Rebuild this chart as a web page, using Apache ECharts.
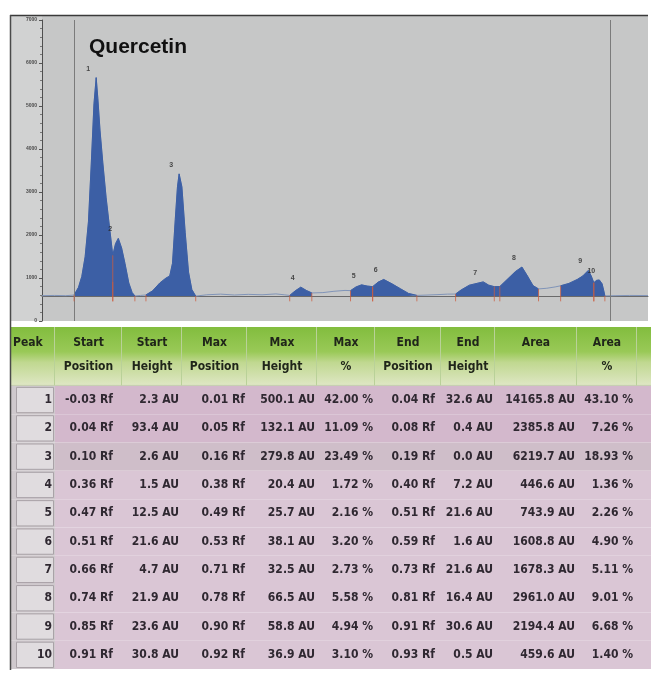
<!DOCTYPE html>
<html>
<head>
<meta charset="utf-8">
<script src="https://cdn.jsdelivr.net/npm/echarts@6/dist/echarts.min.js"></script>
<style>
  html, body { margin: 0; padding: 0; background: #ffffff; }
  #chart { width: 651px; height: 678px; }
</style>
</head>
<body>
<div id="chart"></div>
<script>
// ---- Peak table of the densitometric scan ----
const peakNumbers   = [1, 2, 3, 4, 5, 6, 7, 8, 9, 10];
const startPosition = [-0.03, 0.04, 0.10, 0.36, 0.47, 0.51, 0.66, 0.74, 0.85, 0.91];
const startHeight   = [2.3, 93.4, 2.6, 1.5, 12.5, 21.6, 4.7, 21.9, 23.6, 30.8];
const maxPosition   = [0.01, 0.05, 0.16, 0.38, 0.49, 0.53, 0.71, 0.78, 0.90, 0.92];
const maxHeight     = [500.1, 132.1, 279.8, 20.4, 25.7, 38.1, 32.5, 66.5, 58.8, 36.9];
const maxPercent    = [42.00, 11.09, 23.49, 1.72, 2.16, 3.20, 2.73, 5.58, 4.94, 3.10];
const endPosition   = [0.04, 0.08, 0.19, 0.40, 0.51, 0.59, 0.73, 0.81, 0.91, 0.93];
const endHeight     = [32.6, 0.4, 0.0, 7.2, 21.6, 1.6, 21.6, 16.4, 30.6, 0.5];
const area          = [14165.8, 2385.8, 6219.7, 446.6, 743.9, 1608.8, 1678.3, 2961.0, 2194.4, 459.6];
const areaPercent   = [43.10, 7.26, 18.93, 1.36, 2.26, 4.90, 5.11, 9.01, 6.68, 1.40];

// ---- Scanned track profile (Rf, AU) ----
const traceRf = [-0.088, -0.065, -0.045, -0.03, -0.022, -0.016, -0.01, -0.004, 0.001, 0.006, 0.01,
  0.013, 0.017, 0.022, 0.028, 0.035, 0.04, 0.045, 0.05, 0.056, 0.062, 0.069, 0.075, 0.08,
  0.09, 0.10, 0.112, 0.125, 0.136, 0.143, 0.148, 0.153, 0.157, 0.16, 0.165, 0.171, 0.177,
  0.183, 0.19, 0.21, 0.235, 0.26, 0.285, 0.31, 0.335, 0.35, 0.36, 0.37, 0.38, 0.39, 0.40,
  0.42, 0.44, 0.46, 0.47, 0.48, 0.49, 0.50, 0.51, 0.52, 0.53, 0.545, 0.56, 0.575, 0.59,
  0.61, 0.63, 0.645, 0.66, 0.67, 0.685, 0.71, 0.72, 0.73, 0.74, 0.755, 0.768, 0.78, 0.79,
  0.80, 0.81, 0.825, 0.84, 0.85, 0.865, 0.88, 0.89, 0.90, 0.905, 0.91, 0.915, 0.92, 0.925,
  0.928, 0.93, 0.95, 0.975, 1.008];
const traceAU = [1.0, 1.5, 1.0, 2.3, 20, 45, 90, 170, 300, 440, 500.1,
  452, 378, 305, 225, 148, 93.4, 120, 132.1, 110, 75, 30, 8, 0.4,
  1.5, 2.6, 12, 30, 41, 46, 75, 175, 250, 279.8, 250, 145, 55,
  15, 0.0, 3, 4.5, 2.5, 4, 3, 5, 3, 1.5, 12, 20.4, 13, 7.2,
  8, 11, 13, 12.5, 21, 25.7, 23, 21.6, 32, 38.1, 28, 17, 6, 1.6,
  2.5, 3.5, 4.5, 4.7, 14, 25, 32.5, 25, 21.6, 21.9, 40, 56, 66.5, 46,
  24, 16.4, 18, 21, 23.6, 29, 38, 46, 58.8, 47, 30.6, 36, 36.9, 28,
  12, 0.5, 1, 1.5, 1.2];

// Application line and solvent front (Rf)
const referenceLineRf = [-0.033, 0.935];

// Left axis (raw detector scale)
const yTickLabels = ['0', '1000', '2000', '3000', '4000', '5000', '6000', '7000'];

// Table header text
const headerTop    = ['Peak', 'Start', 'Start', 'Max', 'Max', 'Max', 'End', 'End', 'Area', 'Area', ''];
const headerBottom = ['', 'Position', 'Height', 'Position', 'Height', '%', 'Position', 'Height', '', '%', ''];

// ---- Layout / style constants ----
const colEdges = [0, 45, 112, 172, 237, 307, 365, 431, 485, 567, 627, 700]; // px from table left
const colPad   = [3, 9, 3, 2, 2, 2, 6, 2, 2, 4, 2];
const rowFill  = ['#d3b8cc', '#d3b8cc', '#cfbec9', '#dac6d5', '#dac6d5', '#dac6d5', '#dac6d5', '#dac6d5', '#dac6d5', '#dac6d5'];
const tableFont = '"DejaVu Sans Condensed", "DejaVu Sans", sans-serif';
const HEADER_MIN = -2.08;

const columns = [
  null,
  { v: startPosition, d: 2, u: 'Rf' },
  { v: startHeight,   d: 1, u: 'AU' },
  { v: maxPosition,   d: 2, u: 'Rf' },
  { v: maxHeight,     d: 1, u: 'AU' },
  { v: maxPercent,    d: 2, u: '%' },
  { v: endPosition,   d: 2, u: 'Rf' },
  { v: endHeight,     d: 1, u: 'AU' },
  { v: area,          d: 1, u: 'AU' },
  { v: areaPercent,   d: 2, u: '%' },
  null
];

function cellText(c, r) {
  if (c === 0) return String(peakNumbers[r]);
  const col = columns[c];
  if (!col) return '';
  return col.v[r].toFixed(col.d) + ' ' + col.u;
}

// Profile points and filled peak regions
const tracePoints = traceRf.map((x, i) => [x, traceAU[i]]);
function insidePeak(x) {
  for (let i = 0; i < startPosition.length; i++) {
    if (x >= startPosition[i] - 1e-9 && x <= endPosition[i] + 1e-9) return true;
  }
  return false;
}
const fillData = [];
tracePoints.forEach(p => {
  if (insidePeak(p[0])) fillData.push(p);
  else if (fillData.length && fillData[fillData.length - 1] !== '-') fillData.push('-');
});

// Boundary markers: each peak start and end
const boundaryData = [];
for (let i = 0; i < startPosition.length; i++) {
  boundaryData.push([startPosition[i], startHeight[i]]);
  boundaryData.push([endPosition[i], endHeight[i]]);
}

// Table cell data
const bodyData = [];
for (let r = 0; r < peakNumbers.length; r++) {
  for (let c = 0; c < colEdges.length - 1; c++) bodyData.push([c, r]);
}
const headerData = [];
for (let c = 0; c < colEdges.length - 1; c++) headerData.push([c, -1]);

const chart = echarts.init(document.getElementById('chart'), null, { renderer: 'canvas' });

const option = {
  backgroundColor: '#ffffff',
  animation: false,
  title: {
    text: 'Quercetin',
    left: 84, top: 32,
    textStyle: { fontFamily: '"Liberation Sans", Arial, sans-serif', fontSize: 21, fontWeight: 'bold', color: '#111111' }
  },
  graphic: [
    { type: 'rect', z: 0, silent: true, shape: { x: 10, y: 15, width: 638, height: 306 }, style: { fill: '#c6c7c7' } },
    { type: 'rect', z: 0, silent: true, shape: { x: 10, y: 15, width: 32, height: 306 }, style: { fill: '#d1d2d2' } },
    { type: 'line', z: 20, silent: true, shape: { x1: 10, y1: 15.5, x2: 648, y2: 15.5 }, style: { stroke: '#3a3a3a', lineWidth: 1.5 } },
    { type: 'line', z: 20, silent: true, shape: { x1: 10.5, y1: 15, x2: 10.5, y2: 670 }, style: { stroke: '#4a4a4a', lineWidth: 1.5 } }
  ],
  grid: [
    { left: 42, top: 20, width: 606, height: 301 },
    { left: 10, top: 327, width: 641, height: 342 }
  ],
  xAxis: [
    {
      gridIndex: 0, type: 'value', min: -0.088, max: 1.008,
      axisLine: { show: true, onZero: true, onZeroAxisIndex: 0, lineStyle: { color: '#6a6a6a', width: 1 } },
      axisTick: { show: false }, axisLabel: { show: false }, splitLine: { show: false }
    },
    { gridIndex: 1, type: 'value', min: 0, max: 641, show: false }
  ],
  yAxis: [
    { gridIndex: 0, type: 'value', min: -57, max: 632, show: false, splitLine: { show: false } },
    {
      gridIndex: 0, type: 'value', min: 0, max: 7000, interval: 1000, position: 'left',
      axisLine: { show: true, lineStyle: { color: '#4f4f4f', width: 1 } },
      axisTick: { show: true, length: 3, lineStyle: { color: '#555555' } },
      minorTick: { show: true, splitNumber: 5, length: 2, lineStyle: { color: '#777777' } },
      axisLabel: {
        fontSize: 5, color: '#4a4a4a', margin: 5, fontWeight: 'bold',
        formatter: v => yTickLabels[Math.round(v / 1000)]
      },
      splitLine: { show: false }
    },
    { gridIndex: 1, type: 'value', min: HEADER_MIN, max: 10, inverse: true, show: false }
  ],
  series: [
    {
      name: 'profile', type: 'line', xAxisIndex: 0, yAxisIndex: 0, z: 2,
      data: tracePoints, showSymbol: false, silent: true,
      lineStyle: { color: '#8094b8', width: 1 },
      markLine: {
        silent: true, symbol: 'none', label: { show: false },
        lineStyle: { color: '#7b7b7b', width: 1, type: 'solid' },
        data: referenceLineRf.map(x => ({ xAxis: x }))
      }
    },
    {
      name: 'peaks', type: 'line', xAxisIndex: 0, yAxisIndex: 0, z: 3,
      data: fillData, showSymbol: false, silent: true, connectNulls: false,
      lineStyle: { color: '#3c5fa5', width: 1 },
      areaStyle: { color: '#3c5fa5', opacity: 1 }
    },
    {
      name: 'boundaries', type: 'custom', xAxisIndex: 0, yAxisIndex: 0, z: 5, silent: true,
      data: boundaryData,
      renderItem: function (params, api) {
        const top = api.coord([api.value(0), api.value(1)]);
        const bot = api.coord([api.value(0), -12]);
        return {
          type: 'line',
          shape: { x1: top[0], y1: top[1], x2: bot[0], y2: bot[1] },
          style: { stroke: 'rgba(206, 92, 62, 0.75)', lineWidth: 1 }
        };
      }
    },
    {
      name: 'peak numbers', type: 'scatter', xAxisIndex: 0, yAxisIndex: 0, z: 6, silent: true,
      data: maxPosition.map((x, i) => [x, maxHeight[i], peakNumbers[i]]),
      symbolSize: 1, itemStyle: { color: 'rgba(0,0,0,0)' },
      label: {
        show: true, position: 'inside', offset: [-8, -9],
        formatter: p => String(p.value[2]),
        fontSize: 7, fontWeight: 'bold', color: '#262626'
      }
    },
    {
      name: 'table header', type: 'custom', xAxisIndex: 1, yAxisIndex: 2, z: 2, silent: true,
      data: headerData,
      renderItem: function (params, api) {
        const c = api.value(0);
        const a = api.coord([colEdges[c], HEADER_MIN]);
        const b = api.coord([colEdges[c + 1], 0]);
        const x0 = a[0], y0 = a[1], x1 = b[0], y1 = b[1];
        const grad = new echarts.graphic.LinearGradient(0, 0, 0, 1, [
          { offset: 0, color: '#82bd3e' },
          { offset: 0.42, color: '#99c957' },
          { offset: 0.6, color: '#c0d890' },
          { offset: 1, color: '#dfe7c5' }
        ]);
        const children = [
          { type: 'rect', shape: { x: x0, y: y0, width: x1 - x0, height: y1 - y0 }, style: { fill: grad } },
          { type: 'line', shape: { x1: x1 - 0.5, y1: y0, x2: x1 - 0.5, y2: y1 }, style: { stroke: '#b9d198', lineWidth: 1 } },
          { type: 'line', shape: { x1: x0, y1: y1 - 0.5, x2: x1, y2: y1 - 0.5 }, style: { stroke: '#c4ccb0', lineWidth: 1 } }
        ];
        const base = { fontFamily: tableFont, fontSize: 12, fontWeight: 'bold', fill: '#20261a', verticalAlign: 'middle' };
        if (c === 0) {
          children.push({ type: 'text', style: Object.assign({}, base, { text: headerTop[c], x: x0 + 3, y: y0 + 16, align: 'left' }) });
        } else {
          const cx = (x0 + x1) / 2;
          children.push({ type: 'text', style: Object.assign({}, base, { text: headerTop[c], x: cx, y: y0 + 16, align: 'center' }) });
          children.push({ type: 'text', style: Object.assign({}, base, { text: headerBottom[c], x: cx, y: y0 + 40, align: 'center' }) });
        }
        return { type: 'group', children: children };
      }
    },
    {
      name: 'table body', type: 'custom', xAxisIndex: 1, yAxisIndex: 2, z: 2, silent: true,
      data: bodyData,
      renderItem: function (params, api) {
        const c = api.value(0), r = api.value(1);
        const a = api.coord([colEdges[c], r]);
        const b = api.coord([colEdges[c + 1], r + 1]);
        const x0 = a[0], y0 = a[1], x1 = b[0], y1 = b[1];
        const children = [];
        if (c === 0) {
          children.push({ type: 'rect', shape: { x: x0, y: y0, width: x1 - x0, height: y1 - y0 }, style: { fill: '#cfc9cd' } });
          children.push({ type: 'rect', shape: { x: x0 + 6.5, y: y0 + 1.5, width: x1 - x0 - 8, height: y1 - y0 - 3 }, style: { fill: '#e0dcdf', stroke: '#a9a2a7', lineWidth: 1 } });
        } else {
          children.push({ type: 'rect', shape: { x: x0, y: y0, width: x1 - x0, height: y1 - y0 }, style: { fill: rowFill[r] } });
        }
        children.push({
          type: 'text',
          style: {
            text: cellText(c, r), x: x1 - colPad[c], y: (y0 + y1) / 2,
            align: 'right', verticalAlign: 'middle',
            fontFamily: tableFont, fontSize: 12, fontWeight: 'bold', fill: '#2f2831'
          }
        });
        return { type: 'group', children: children };
      }
    }
  ]
};

chart.setOption(option);
</script>
</body>
</html>
